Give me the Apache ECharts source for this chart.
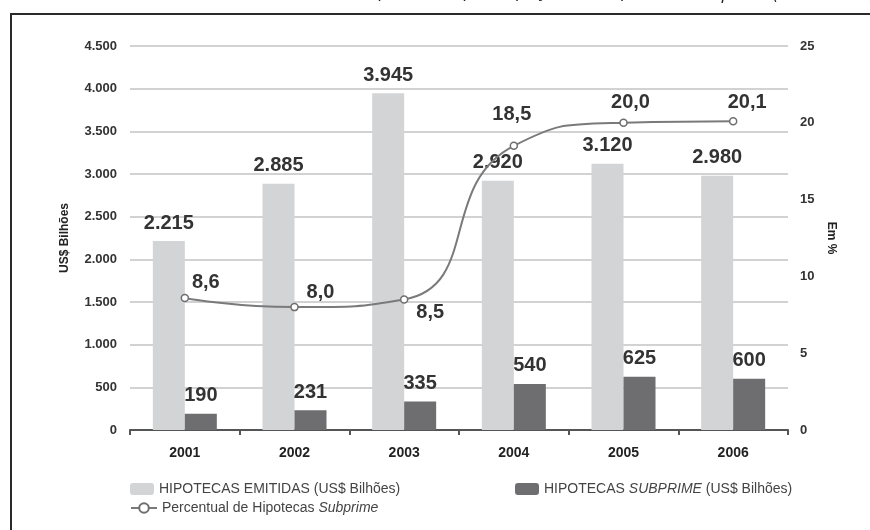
<!DOCTYPE html>
<html>
<head>
<meta charset="utf-8">
<script src="https://cdn.jsdelivr.net/npm/echarts@6/dist/echarts.min.js"></script>
<style>
html,body{margin:0;padding:0;background:#fff;}
#chart{width:870px;height:530px;}
</style>
</head>
<body>
<div id="chart"></div>
<script>
// ---- data ----
const categories = ['2001', '2002', '2003', '2004', '2005', '2006'];
const emitidas = [2215, 2885, 3945, 2920, 3120, 2980];
const subprime = [190, 231, 335, 540, 625, 600];
const percentual = [8.6, 8.0, 8.5, 18.5, 20.0, 20.1];
const leftTicks = [0, 500, 1000, 1500, 2000, 2500, 3000, 3500, 4000, 4500];
const rightTicks = [0, 5, 10, 15, 20, 25];

// ---- label placement (style only) ----
const lineLabelOffsets = [[21, -15], [26, -15], [26, 13], [-2, -31], [7, -20], [14, -19]];

const FONT = '"Liberation Sans", Arial, sans-serif';
const fmtThousands = v => {
  const s = String(v);
  return s.length > 3 ? s.slice(0, s.length - 3) + '.' + s.slice(s.length - 3) : s;
};

const chart = echarts.init(document.getElementById('chart'), null, {renderer: 'canvas'});

const barLabel = {
  show: true, position: 'top', distance: 8,
  fontFamily: FONT, fontWeight: 'bold', fontSize: 20, color: '#333',
  formatter: p => fmtThousands(p.value)
};

const legendText = {fontFamily: FONT, fontSize: 14, color: '#444'};
const legendRich = {
  n: {fontFamily: FONT, fontSize: 14, color: '#444'},
  i: {fontFamily: FONT, fontSize: 14, color: '#444', fontStyle: 'italic'}
};

const option = {
  backgroundColor: '#fff',
  animation: false,
  graphic: [
    {type: 'rect', shape: {x: 11, y: 14, width: 900, height: 600},
     style: {fill: 'none', stroke: '#2a2a2a', lineWidth: 2}, silent: true},
    {type: 'text', x: 690, y: 1,
     style: {text: 'Gráfico 1 – Emissão de hipotecas e participação das hipotecas ', textAlign: 'right',
             textVerticalAlign: 'bottom', font: '18px "Open Sans", sans-serif', fill: '#222'}},
    {type: 'text', x: 692, y: 3,
     style: {text: 'Subprime (US$ bilhões)', textAlign: 'left',
             textVerticalAlign: 'bottom', font: 'italic 18px "Open Sans", sans-serif', fill: '#222'}}
  ],
  grid: {left: 130, right: 82, top: 46, bottom: 100, containLabel: false},
  legend: [
    {left: 125, top: 477, itemWidth: 24, itemHeight: 12, data: ['HIPOTECAS EMITIDAS (US$ Bilhões)'],
     textStyle: legendText},
    {left: 510, top: 477, itemWidth: 24, itemHeight: 12, data: ['HIPOTECAS SUBPRIME (US$ Bilhões)'],
     textStyle: {rich: legendRich},
     formatter: () => '{n|HIPOTECAS }{i|SUBPRIME}{n| (US$ Bilhões)}'},
    {left: 125, top: 496, itemWidth: 26, itemHeight: 12, data: ['Percentual de Hipotecas Subprime'],
     textStyle: {rich: legendRich},
     formatter: () => '{n|Percentual de Hipotecas }{i|Subprime}'}
  ],
  xAxis: {
    type: 'category',
    data: categories,
    axisLine: {show: true, lineStyle: {color: '#555', width: 2}},
    axisTick: {show: true, alignWithLabel: false, length: 5, lineStyle: {color: '#555', width: 2}},
    axisLabel: {fontFamily: FONT, fontWeight: 'bold', fontSize: 14, color: '#222', margin: 16}
  },
  yAxis: [
    {
      type: 'value', min: 0, max: 4500, interval: 500,
      name: 'US$ Bilhões', nameLocation: 'middle', nameGap: 59, nameRotate: 90,
      nameTextStyle: {fontFamily: FONT, fontWeight: 'bold', fontSize: 12, color: '#222'},
      axisLine: {show: false}, axisTick: {show: false},
      splitLine: {show: true, lineStyle: {color: '#d2d2d2', width: 2}},
      axisLabel: {fontFamily: FONT, fontWeight: 'bold', fontSize: 13, color: '#333', margin: 13,
                  formatter: v => leftTicks.includes(v) ? fmtThousands(v) : ''}
    },
    {
      type: 'value', min: 0, max: 25, interval: 5,
      name: 'Em %', nameLocation: 'middle', nameGap: 36, nameRotate: -90,
      nameTextStyle: {fontFamily: FONT, fontWeight: 'bold', fontSize: 12, color: '#222'},
      axisLine: {show: false}, axisTick: {show: false}, splitLine: {show: false},
      axisLabel: {fontFamily: FONT, fontWeight: 'bold', fontSize: 13, color: '#333', margin: 12,
                  formatter: v => rightTicks.includes(v) ? String(v) : ''}
    }
  ],
  series: [
    {
      name: 'HIPOTECAS EMITIDAS (US$ Bilhões)', type: 'bar', yAxisIndex: 0,
      data: emitidas, barWidth: 32, barGap: '0%',
      itemStyle: {color: '#d3d4d6'}, label: barLabel
    },
    {
      name: 'HIPOTECAS SUBPRIME (US$ Bilhões)', type: 'bar', yAxisIndex: 0,
      data: subprime, barWidth: 32, barGap: '0%',
      itemStyle: {color: '#6e6e70'}, label: barLabel
    },
    {
      name: 'Percentual de Hipotecas Subprime', type: 'line', yAxisIndex: 1,
      data: percentual.map((v, i) => ({value: v, label: {offset: lineLabelOffsets[i]}})),
      smooth: 0.55, z: 5,
      symbol: 'circle', symbolSize: 7, showAllSymbol: true,
      lineStyle: {color: '#7a7a7a', width: 2},
      itemStyle: {color: '#fff', borderColor: '#6e6e6e', borderWidth: 1.5},
      label: {show: true, position: 'inside', fontFamily: FONT, fontWeight: 'bold', fontSize: 20, color: '#333',
              formatter: p => p.value.toFixed(1).replace('.', ',')}
    }
  ]
};
chart.setOption(option);
</script>
</body>
</html>
